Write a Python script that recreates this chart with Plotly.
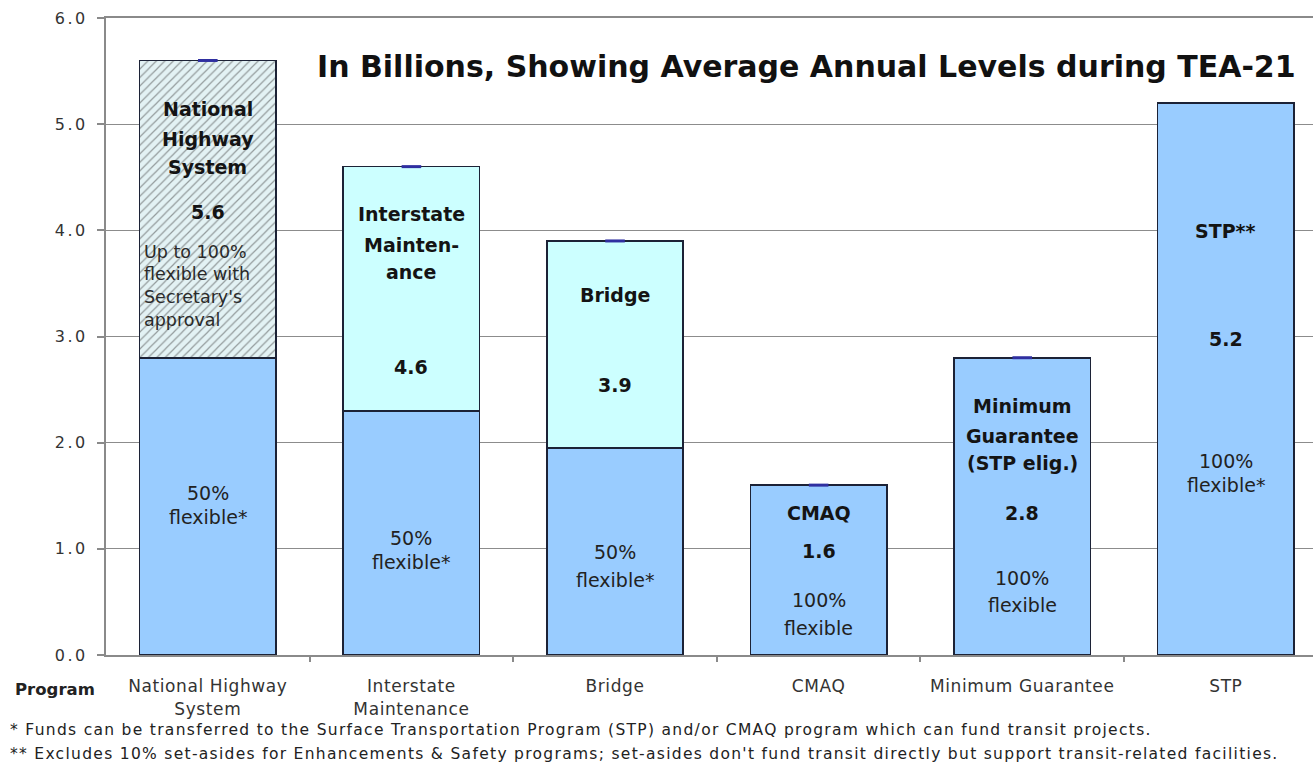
import plotly.graph_objects as go

# Federal-aid highway programs, average annual levels (billions)
categories = ["National Highway<br>System", "Interstate<br>Maintenance", "Bridge",
              "CMAQ", "Minimum Guarantee", "STP"]
totals = [5.6, 4.6, 3.9, 1.6, 2.8, 5.2]
flexible_base = [2.8, 2.3, 1.95, 1.6, 2.8, 5.2]
y_ticks = [0, 1, 2, 3, 4, 5, 6]

FONT = "DejaVu Sans"
BASE_BLUE = "#99CCFF"
UPPER_CYAN = "#CCFFFF"
HATCH_BG = "#E3F2F4"
EDGE = "#1c2236"


def spaced(text, px):
    return f'<span style="letter-spacing:{px}px">{text}</span>'


idx = list(range(len(categories)))
upper = [round(t - b, 2) if t - b > 1e-9 else None for t, b in zip(totals, flexible_base)]

fig = go.Figure()

fig.add_trace(go.Bar(
    x=idx, y=flexible_base, width=0.67,
    marker=dict(color=BASE_BLUE, line=dict(color=EDGE, width=1.6)),
    hoverinfo="skip", showlegend=False,
))
fig.add_trace(go.Bar(
    x=idx, y=upper, width=0.67,
    marker=dict(
        color=[HATCH_BG] + [UPPER_CYAN] * (len(idx) - 1),
        line=dict(color=EDGE, width=1.6),
        pattern=dict(shape=["/"] + [""] * (len(idx) - 1), fgcolor="#b8c5c7",
                     size=6, solidity=0.2, fillmode="overlay"),
    ),
    hoverinfo="skip", showlegend=False,
))
# small dash marking the top of each program total
fig.add_trace(go.Scatter(
    x=idx[:5], y=totals[:5], mode="markers",
    marker=dict(symbol="line-ew", size=14, line=dict(color="#2f2fa0", width=3)),
    hoverinfo="skip", showlegend=False,
))

ann = []


def line_label(i, y, text, kind):
    styles = {
        "name": dict(size=19, color="#141414", bold=True),
        "value": dict(size=19, color="#141414", bold=True),
        "note": dict(size=19, color="#222222", bold=False),
    }
    st = styles[kind]
    t = f"<b>{text}</b>" if st["bold"] else text
    ann.append(dict(x=i, y=y, xref="x", yref="y", text=t, showarrow=False,
                    xanchor="center", yanchor="middle",
                    font=dict(family=FONT, size=st["size"], color=st["color"])))


def value_label(i, y):
    line_label(i, y, f"{totals[i]:.1f}", "value")


# National Highway System
for y, t in [(5.14, "National"), (4.86, "Highway"), (4.60, "System")]:
    line_label(0, y, t, "name")
value_label(0, 4.17)
for y, t in [(3.80, "Up to 100%"), (3.59, "flexible with"), (3.37, "Secretary's"), (3.16, "approval")]:
    ann.append(dict(x=-0.335, y=y, xref="x", yref="y", text=t, showarrow=False,
                    xanchor="left", yanchor="middle", xshift=2,
                    font=dict(family=FONT, size=17.5, color="#2a2a2a")))
line_label(0, 1.53, "50%", "note")
line_label(0, 1.30, "flexible*", "note")

# Interstate Maintenance
for y, t in [(4.15, "Interstate"), (3.86, "Mainten-"), (3.61, "ance")]:
    line_label(1, y, t, "name")
value_label(1, 2.71)
line_label(1, 1.10, "50%", "note")
line_label(1, 0.88, "flexible*", "note")

# Bridge
line_label(2, 3.39, "Bridge", "name")
value_label(2, 2.54)
line_label(2, 0.97, "50%", "note")
line_label(2, 0.71, "flexible*", "note")

# CMAQ
line_label(3, 1.34, "CMAQ", "name")
value_label(3, 0.98)
line_label(3, 0.52, "100%", "note")
line_label(3, 0.25, "flexible", "note")

# Minimum Guarantee
for y, t in [(2.35, "Minimum"), (2.06, "Guarantee"), (1.81, "(STP elig.)")]:
    line_label(4, y, t, "name")
value_label(4, 1.34)
line_label(4, 0.73, "100%", "note")
line_label(4, 0.47, "flexible", "note")

# STP
line_label(5, 3.99, "STP**", "name")
value_label(5, 2.98)
line_label(5, 1.83, "100%", "note")
line_label(5, 1.60, "flexible*", "note")

# chart heading
ann.append(dict(x=2.94, y=5.54, xref="x", yref="y",
                text="<b>In Billions, Showing Average Annual Levels during TEA-21</b>",
                showarrow=False, xanchor="center", yanchor="middle",
                font=dict(family=FONT, size=30, color="#111111")))

# axis caption and footnotes
ann.append(dict(x=0, y=0, xref="paper", yref="paper", text="<b>Program</b>",
                showarrow=False, xanchor="right", yanchor="middle",
                xshift=-9, yshift=-34,
                font=dict(family=FONT, size=16.5, color="#222222")))
ann.append(dict(x=0, y=0, xref="paper", yref="paper",
                text=spaced("* Funds can be transferred to the Surface Transportation Program (STP) "
                            "and/or CMAQ program which can fund transit projects.", 1.3),
                showarrow=False, xanchor="left", yanchor="middle",
                xshift=-98, yshift=-75,
                font=dict(family=FONT, size=15.5, color="#222222")))
ann.append(dict(x=0, y=0, xref="paper", yref="paper",
                text=spaced("** Excludes 10% set-asides for Enhancements & Safety programs; "
                            "set-asides don't fund transit directly but support transit-related facilities.", 1.3),
                showarrow=False, xanchor="left", yanchor="middle",
                xshift=-98, yshift=-99,
                font=dict(family=FONT, size=15.5, color="#222222")))

fig.update_layout(
    width=1313, height=765,
    margin=dict(l=106, r=0, t=18, b=110),
    paper_bgcolor="white", plot_bgcolor="white",
    barmode="stack",
    annotations=ann,
    font=dict(family=FONT, color="#333333"),
)
fig.update_xaxes(
    type="linear",
    range=[-0.5, 5.428],
    tickmode="array", tickvals=idx,
    ticktext=[spaced(c, 0.6) for c in categories],
    ticks="", showgrid=False,
    minor=dict(tickmode="array", tickvals=[i + 0.5 for i in idx],
               ticks="outside", ticklen=5, tickcolor="#8a8a8a", tickwidth=1.5, showgrid=False),
    showline=True, linecolor="#8a8a8a", linewidth=2, mirror=True,
    tickfont=dict(family=FONT, size=17, color="#333333"),
    ticklabelstandoff=15,
    zeroline=False,
)
fig.update_yaxes(
    range=[0, 6],
    tickmode="array", tickvals=y_ticks,
    ticktext=[spaced(f"{v:.1f}", 2.5) for v in y_ticks],
    ticks="outside", ticklen=7, tickcolor="#8a8a8a", tickwidth=1.5,
    showgrid=True, gridcolor="#8c8c8c", gridwidth=1,
    showline=True, linecolor="#8a8a8a", linewidth=2,
    tickfont=dict(family=FONT, size=16, color="#333333"),
    ticklabelstandoff=6,
    zeroline=False,
)

fig.write_html("out.html")
